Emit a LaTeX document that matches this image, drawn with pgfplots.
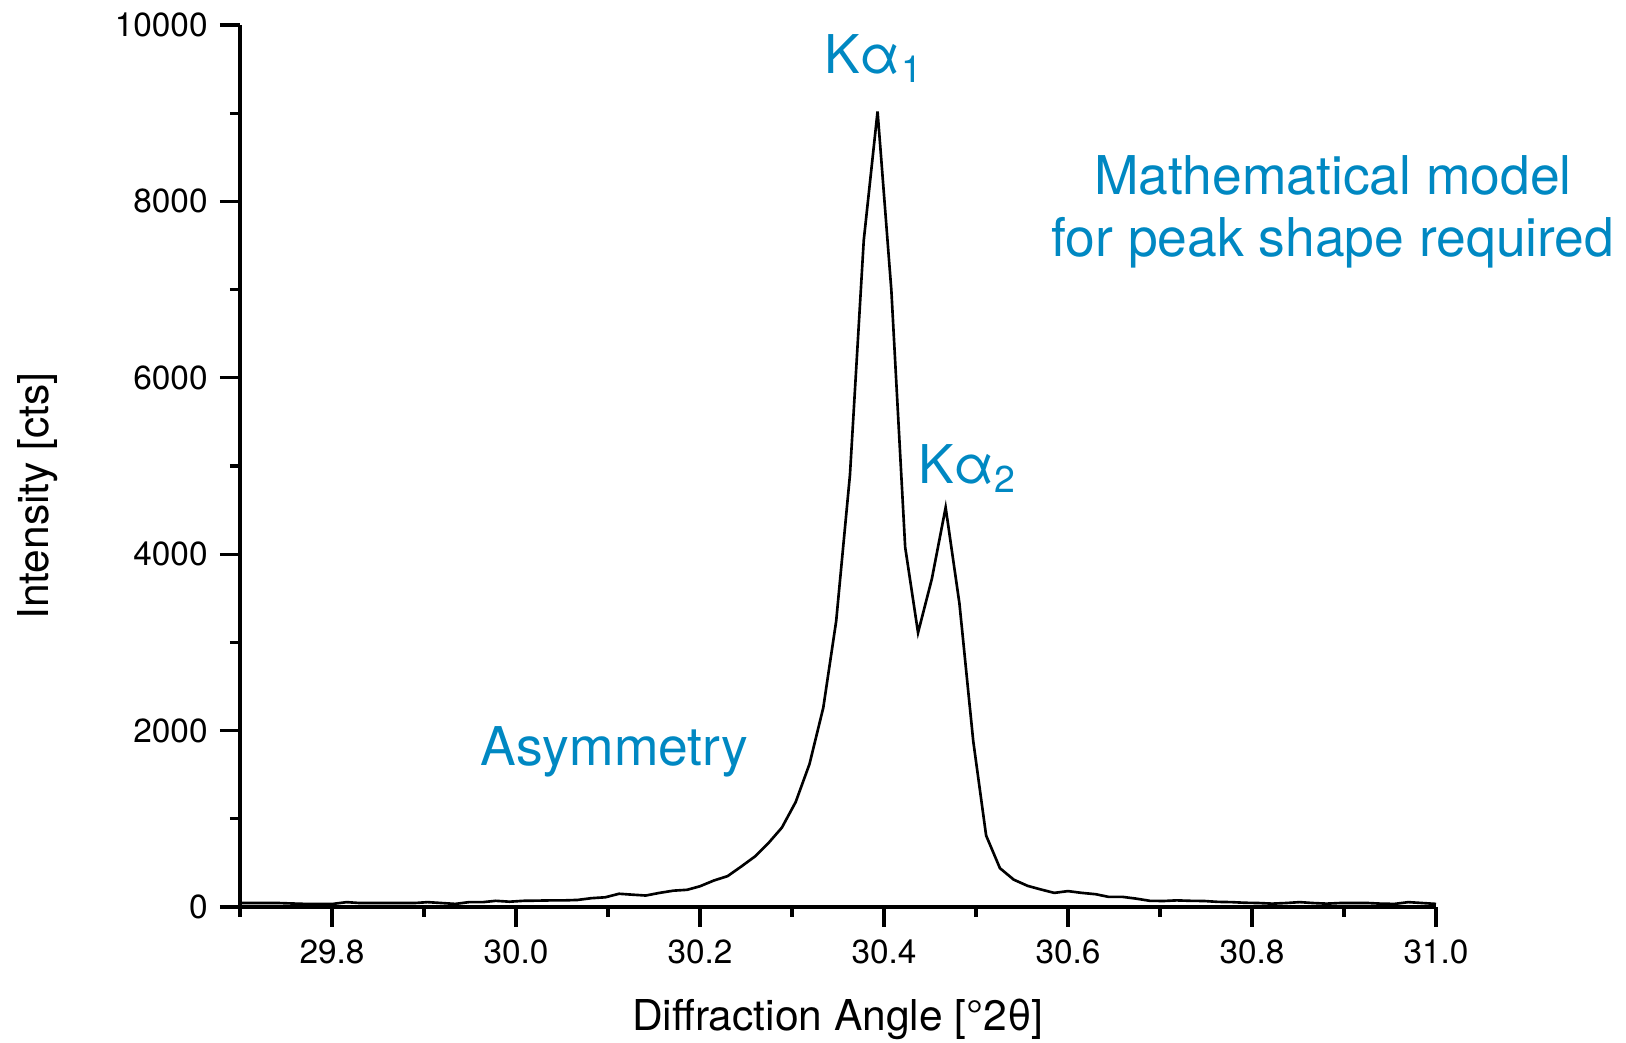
\documentclass[border=0pt]{standalone}
\usepackage{pgfplots}
\pgfplotsset{compat=1.18}
\usepackage{fontspec}
\setmainfont{TeX Gyre Heros}
\definecolor{annblue}{RGB}{0,136,194}
\begin{document}
\begin{tikzpicture}
\useasboundingbox (-2.40,-1.36) rectangle (13.86,9.07);
\begin{axis}[
  at={(0,0)}, anchor=south west,
  scale only axis, width=11.96cm, height=8.82cm,
  xmin=29.7, xmax=31.0, ymin=0, ymax=10000,
  axis lines=left, axis line style={-, line width=0.9pt},
  tick align=outside,
  major tick length=2mm, minor tick length=1mm,
  every tick/.style={black, line width=0.9pt},
  xtick={29.8,30.0,...,31.0},
  minor xtick={29.7,29.9,...,30.95},
  ytick={0,2000,...,10000},
  minor ytick={1000,3000,...,9000},
  xticklabel style={/pgf/number format/fixed,/pgf/number format/fixed zerofill,/pgf/number format/precision=1},
  yticklabel style={/pgf/number format/fixed,/pgf/number format/1000 sep={}},
  /pgf/number format/assume math mode=true,
  tick label style={font=\fontsize{9.5}{11}\selectfont},
  scaled ticks=false,
  every axis x label/.style={at={(axis description cs:0.5,-0.127)},anchor=center},
  every axis y label/.style={at={(axis description cs:-0.169,0.466)},rotate=90,anchor=center},
  label style={font=\fontsize{12.1}{14}\selectfont},
  xlabel={Diffraction Angle [°2θ]},
  ylabel={Intensity [cts]},
  clip=false,
]
\addplot[black, line width=0.75pt] coordinates {
(29.700,45) (29.712,45) (29.727,45) (29.742,45) (29.756,40) (29.771,35) (29.786,35) (29.801,35)
(29.816,55) (29.830,45) (29.845,45) (29.860,45) (29.875,45) (29.890,45) (29.904,55) (29.919,45)
(29.934,35) (29.949,55) (29.964,55) (29.978,70) (29.993,60) (30.008,70) (30.023,72) (30.038,75)
(30.052,75) (30.067,80) (30.082,100) (30.097,110) (30.112,150) (30.126,140) (30.141,130) (30.156,160)
(30.171,185) (30.186,195) (30.200,235) (30.215,300) (30.230,350) (30.245,460) (30.260,575) (30.274,720)
(30.289,900) (30.304,1190) (30.319,1620) (30.334,2260) (30.348,3240) (30.363,4900) (30.378,7560)
(30.393,9020) (30.408,6990) (30.423,4080) (30.437,3110) (30.452,3720) (30.467,4530) (30.482,3440)
(30.497,1880) (30.511,810) (30.526,440) (30.541,310) (30.556,240) (30.570,200) (30.585,160)
(30.600,180) (30.615,160) (30.630,145) (30.644,115) (30.659,115) (30.674,95) (30.689,70)
(30.704,68) (30.718,75) (30.733,70) (30.748,68) (30.763,58) (30.778,55) (30.792,48) (30.807,45)
(30.822,38) (30.837,45) (30.852,55) (30.866,45) (30.881,38) (30.896,45) (30.911,45) (30.926,45)
(30.940,38) (30.955,35) (30.970,55) (30.985,45) (31.000,35)
};
\node[annblue, font=\fontsize{15.2}{17.7}\selectfont, align=center] at (axis cs:30.888,7880) {Mathematical model\\for peak shape required};
\node[annblue, font=\fontsize{15.2}{17.7}\selectfont] at (axis cs:30.107,1757) {Asymmetry};
\node[annblue, font=\fontsize{15.2}{17.7}\selectfont] at (axis cs:30.389,9615) {Kα\textsubscript{1}};
\node[annblue, font=\fontsize{15.2}{17.7}\selectfont] at (axis cs:30.491,4966) {Kα\textsubscript{2}};
\end{axis}
\end{tikzpicture}
\end{document}
